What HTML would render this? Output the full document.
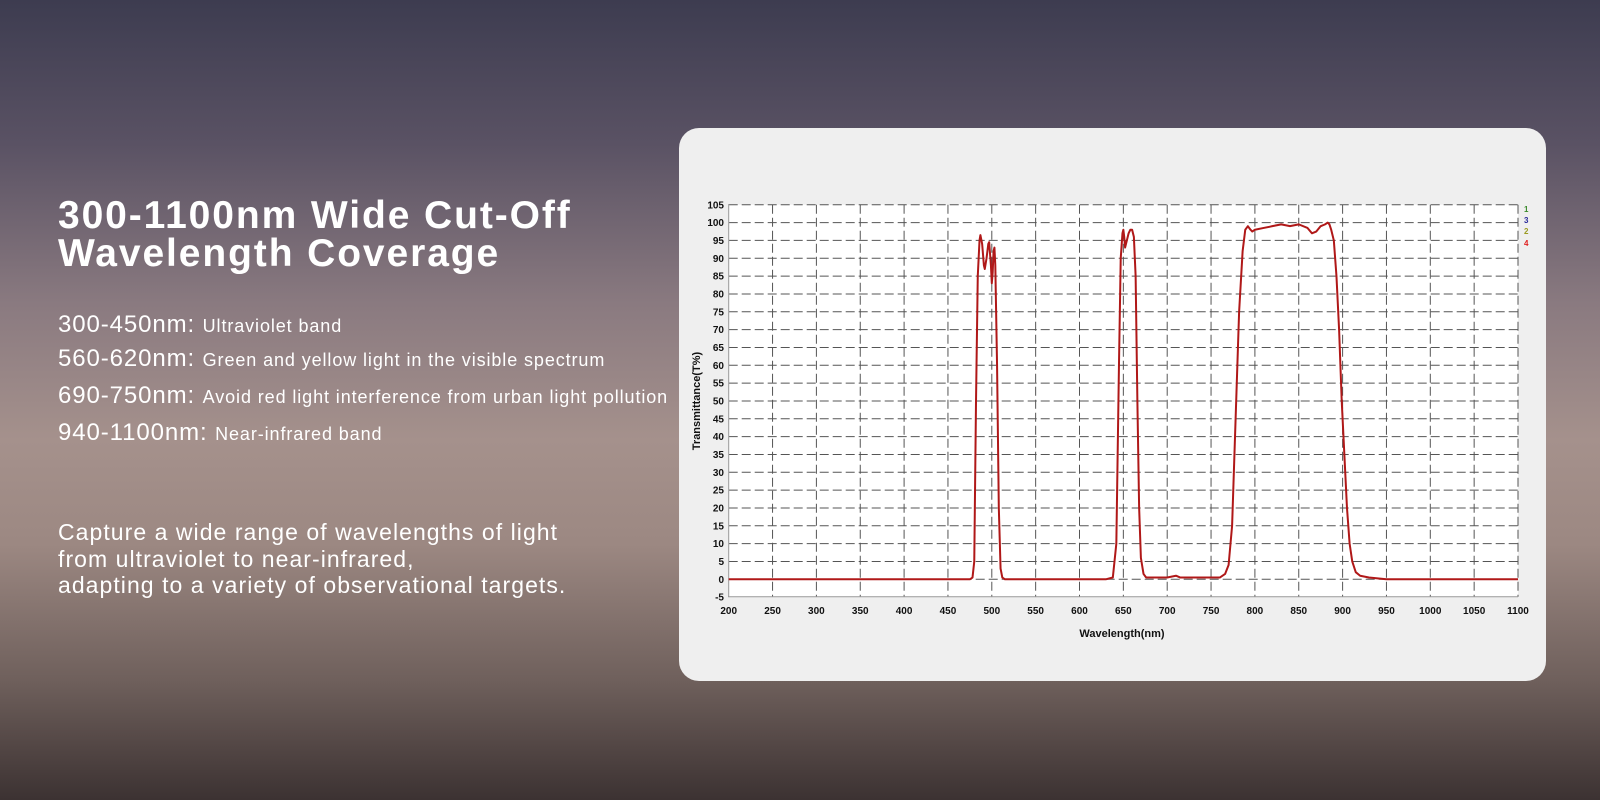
<!DOCTYPE html>
<html><head><meta charset="utf-8"><style>
html,body{margin:0;padding:0}
body{width:1600px;height:800px;overflow:hidden;position:relative;font-family:"Liberation Sans",sans-serif;
background:linear-gradient(180deg,#3d3c50 0%,#5a5264 18%,#8a7a80 38%,#a5918c 55%,#9c8882 68%,#6f605c 85%,#3c3232 100%);}
.t{position:absolute;left:58px;color:#fff;white-space:nowrap}
h1{position:absolute;left:58px;top:197px;margin:0;color:#fff;font-size:39px;line-height:38px;font-weight:bold;letter-spacing:1.9px}
.l{font-size:24px;letter-spacing:0.9px;line-height:26px}.l span{font-size:18px;letter-spacing:0.9px}
.p{font-size:23px;line-height:26.5px;top:519px;letter-spacing:1.05px}
.card{position:absolute;left:679px;top:128px;width:867px;height:553px;background:#efefef;border-radius:20px}
svg{position:absolute;left:0;top:0}
</style></head><body>
<h1>300-1100nm Wide Cut-Off<br>Wavelength Coverage</h1>
<div class="t l" style="top:312px">300-450nm: <span>Ultraviolet band</span></div>
<div class="t l" style="top:346px">560-620nm: <span>Green and yellow light in the visible spectrum</span></div>
<div class="t l" style="top:383px">690-750nm: <span>Avoid red light interference from urban light pollution</span></div>
<div class="t l" style="top:420px">940-1100nm: <span>Near-infrared band</span></div>
<div class="t p">Capture a wide range of wavelengths of light<br>from ultraviolet to near-infrared,<br>adapting to a variety of observational targets.</div>
<div class="card"></div>
<svg width="1600" height="800" xmlns="http://www.w3.org/2000/svg" font-family="Liberation Sans, sans-serif">
<rect x="728.7" y="204.7" width="789.3" height="392" fill="#fff"/>
<g stroke="#555" stroke-width="1" stroke-dasharray="9,4" id="grid"></g>
<line x1="728.7" y1="204" x2="728.7" y2="597" stroke="#999"/>
<line x1="728" y1="596.7" x2="1518" y2="596.7" stroke="#999"/>
<g id="labels" font-size="10" font-weight="bold" fill="#111"></g>
<text x="1122" y="637" font-size="11" font-weight="bold" text-anchor="middle" fill="#111">Wavelength(nm)</text>
<text transform="translate(700,401) rotate(-90)" font-size="11" font-weight="bold" text-anchor="middle" fill="#111">Transmittance(T%)</text>
<g font-size="8" font-weight="bold">
<text x="1524" y="212" fill="#3a8a2a">1</text>
<text x="1524" y="223" fill="#2a2a9a">3</text>
<text x="1524" y="234" fill="#9a9a20">2</text>
<text x="1524" y="246" fill="#e02020">4</text>
</g>
<g transform="translate(728.7,579.3) scale(0.877,-3.567) translate(-200,0)">
<polyline fill="none" stroke="#b01818" stroke-width="2" vector-effect="non-scaling-stroke" stroke-linejoin="round"
points="200,0 475,0 478,0.5 480,5 482,50 484,85 486,95 487,96.5 489,94 491,88 492,87 494,90 496,94 497,94.5 499,88 500,83 501,86 502,92 503,93 504,88 506,60 508,20 510,3 512,0.5 515,0 630,0 638,0.5 642,10 645,60 647,90 649,97 650,98 651,96 652,93 654,95 656,97 658,98 660,98 662,96 664,85 666,50 668,20 670,6 673,1.5 676,0.5 700,0.5 710,1 715,0.5 760,0.5 766,1.5 770,4 774,15 778,45 782,75 786,92 789,98 792,99 795,98 797,97.5 800,98 810,98.5 820,99 830,99.5 840,99 850,99.5 860,98.5 865,97 870,97.5 875,99 880,99.5 883,100 885,99.5 887,98 890,95 893,85 896,70 899,50 902,35 905,20 908,10 911,5 915,2 920,1 930,0.5 950,0 1100,0"/>
</g>
</svg>
<script>
var ns="http://www.w3.org/2000/svg",g=document.getElementById('grid'),lb=document.getElementById('labels');
function el(p,n,a,t){var e=document.createElementNS(ns,n);for(var k in a)e.setAttribute(k,a[k]);if(t!=null)e.textContent=t;p.appendChild(e);}
for(var v=-5;v<=105;v+=5){var y=579.3-v*3.567;
 if(v>-5)el(g,'line',{x1:728.7,x2:1518,y1:y,y2:y});
 el(lb,'text',{x:724,y:y+3.5,'text-anchor':'end'},v);}
for(var w=200;w<=1100;w+=50){var x=728.7+(w-200)*0.877;
 if(w>200)el(g,'line',{x1:x,x2:x,y1:204.7,y2:596.7});
 el(lb,'text',{x:x,y:614,'text-anchor':'middle'},w);}
</script>
</body></html>
